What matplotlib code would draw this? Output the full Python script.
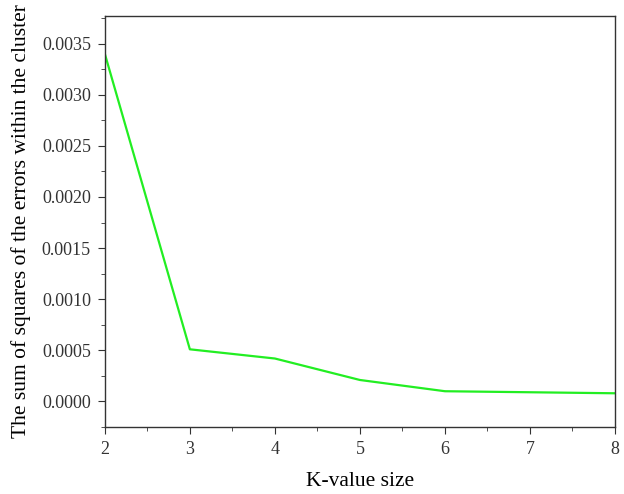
import matplotlib
matplotlib.use("Agg")
import matplotlib.pyplot as plt
from matplotlib.ticker import MultipleLocator, FormatStrFormatter

# elbow curve: SSE against k
k_values = [2, 3, 4, 5, 6, 7, 8]
sse = [0.0034, 0.00051, 0.00042, 0.00021, 0.00010, 0.00009, 0.00008]

plt.rcParams['font.family'] = ['Liberation Serif', 'DejaVu Serif']

fig = plt.figure(figsize=(6.24, 4.94), dpi=100)
ax = fig.add_axes([0.168, 0.1356, 0.8176, 0.832])

ax.plot(k_values, sse, color='#22ee22', linewidth=1.6)

ax.set_xlim(2, 8)
ax.set_ylim(-0.00025, 0.00377)
ax.xaxis.set_major_locator(MultipleLocator(1))
ax.xaxis.set_minor_locator(MultipleLocator(0.5))
ax.yaxis.set_major_locator(MultipleLocator(0.0005))
ax.yaxis.set_minor_locator(MultipleLocator(0.00025))
ax.yaxis.set_major_formatter(FormatStrFormatter('%.4f'))

for side in ['left', 'bottom', 'top', 'right']:
    ax.spines[side].set_linewidth(1.0)
    ax.spines[side].set_color('#333333')
ax.tick_params(which='both', direction='out', color='#333333', top=False, right=False)
ax.tick_params(which='major', length=5, labelsize=13, colors='#333333', pad=5)
ax.tick_params(which='minor', length=3)
for lbl in ax.get_xticklabels() + ax.get_yticklabels():
    lbl.set_color('#333333')

ax.set_xlabel('K-value size', fontsize=15.5, labelpad=10)
ax.set_ylabel('The sum of squares of the errors within the cluster', fontsize=15.5, labelpad=8)

fig.savefig('out.png', dpi=100)
